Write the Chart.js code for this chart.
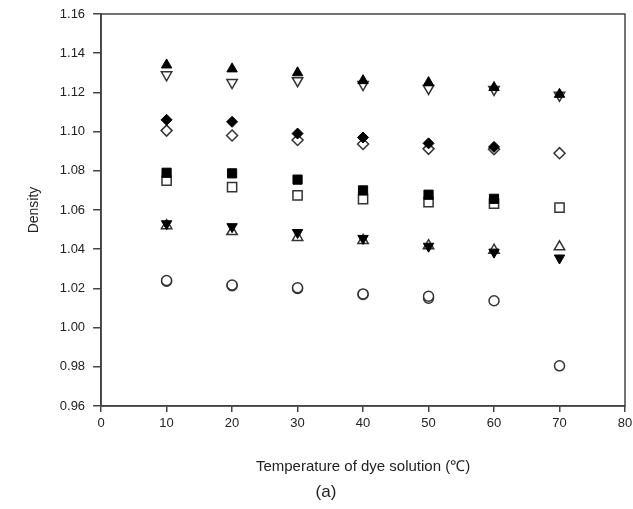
<!DOCTYPE html>
<html>
<head>
<meta charset="utf-8">
<script src="https://cdn.jsdelivr.net/npm/chart.js@4"></script>
<style>
  body { margin: 0; background: #fff; }
</style>
</head>
<body>
<canvas id="densityChart" width="633" height="509"></canvas>
<script>
// Valores
const temps = [10, 20, 30, 40, 50, 60, 70];
const triUpFilled = [1.134, 1.132, 1.130, 1.126, 1.125, 1.1225, 1.119];
const triDownOpen = [1.129, 1.125, 1.126, 1.124, 1.122, 1.1215, 1.1185];
const diamondFilled = [1.106, 1.105, 1.099, 1.097, 1.094, 1.0922, null];
const diamondOpen = [1.1005, 1.098, 1.0957, 1.0937, 1.0912, 1.091, 1.089];
const squareFilled = [1.079, 1.0787, 1.0755, 1.070, 1.0678, 1.0657, null];
const squareOpen = [1.075, 1.0717, 1.0675, 1.0655, 1.064, 1.0632, 1.0612];
const triDownFilled = [1.053, 1.0515, 1.0485, 1.0455, 1.0415, 1.0385, 1.0355];
const triUpOpen = [1.052, 1.049, 1.046, 1.0445, 1.0418, 1.0395, 1.0412];
const circleA = [1.024, 1.0217, 1.0203, 1.0172, 1.016, 1.0137, 0.9805];
const circleB = [1.0237, 1.0214, 1.020, 1.0169, 1.015, null, null];

const xTicks = [0, 10, 20, 30, 40, 50, 60, 70, 80];

const fontFamily = "'Liberation Sans', Arial, sans-serif";

function pts(values) {
    return temps.map((t, i) => ({ x: t, y: values[i] })).filter(p => p.y !== null);
}

function series(values, style, filled, radius, rotation) {
    return {
        data: pts(values),
        pointStyle: style,
        pointRadius: radius,
        pointRotation: rotation || 0,
        pointBackgroundColor: filled ? '#000' : '#fff',
        pointBorderColor: filled ? '#000' : '#333',
        pointBorderWidth: filled ? 1 : 1.5,
        showLine: false
    };
}

// moldura completa em volta da área do gráfico
const frame = {
    id: 'frame',
    afterDatasetsDraw(chart) {
        const a = chart.chartArea;
        const c = chart.ctx;
        c.save();
        c.strokeStyle = '#444';
        c.lineWidth = 1.5;
        c.strokeRect(a.left, a.top, a.right - a.left, a.bottom - a.top);
        c.restore();
    }
};

const ctx = document.getElementById('densityChart').getContext('2d');
const myChart = new Chart(ctx, {
    type: 'scatter',
    data: {
        datasets: [
            series(triUpFilled, 'triangle', true, 6),
            series(triDownOpen, 'triangle', false, 6, 180),
            series(diamondFilled, 'rectRot', true, 5.5),
            series(diamondOpen, 'rectRot', false, 5.5),
            series(squareFilled, 'rect', true, 6.5),
            series(squareOpen, 'rect', false, 6.5),
            series(triDownFilled, 'triangle', true, 6, 180),
            series(triUpOpen, 'triangle', false, 6),
            series(circleA, 'circle', false, 5),
            series(circleB, 'circle', false, 5)
        ]
    },
    options: {
        responsive: false,
        animation: false,
        layout: { padding: { left: 26, right: 7, top: 14, bottom: 4 } },
        plugins: {
            legend: { display: false },
            tooltip: { enabled: false },
            title: {
                display: true,
                text: '(a)',
                position: 'bottom',
                color: '#222',
                font: { family: fontFamily, size: 17, weight: 'normal' },
                padding: { top: 0, bottom: 2 }
            }
        },
        scales: {
            x: {
                type: 'linear',
                min: 0,
                max: 80,
                afterBuildTicks(axis) {
                    axis.ticks = xTicks.map(v => ({ value: v }));
                },
                afterFit(axis) {
                    axis.paddingRight = 0;
                },
                grid: { drawOnChartArea: false, tickLength: 6, color: '#444', lineWidth: 1.5 },
                border: { color: '#444', width: 1.5 },
                ticks: {
                    color: '#222',
                    padding: 4,
                    font: { family: fontFamily, size: 13 }
                },
                title: {
                    display: true,
                    text: 'Temperature of dye solution (℃)',
                    color: '#222',
                    font: { family: fontFamily, size: 15 },
                    padding: { top: 22, bottom: 7 }
                }
            },
            y: {
                min: 0.96,
                max: 1.16,
                afterFit(axis) {
                    axis.paddingTop = 0;
                },
                ticks: {
                    stepSize: 0.02,
                    color: '#222',
                    padding: 8,
                    font: { family: fontFamily, size: 13 },
                    callback: v => v.toFixed(2)
                },
                grid: { drawOnChartArea: false, tickLength: 8, color: '#444', lineWidth: 1.5 },
                border: { color: '#444', width: 1.5 },
                title: {
                    display: true,
                    text: 'Density',
                    color: '#222',
                    font: { family: fontFamily, size: 14 },
                    padding: { top: 0, bottom: 9 }
                }
            }
        }
    },
    plugins: [frame]
});
</script>
</body>
</html>
